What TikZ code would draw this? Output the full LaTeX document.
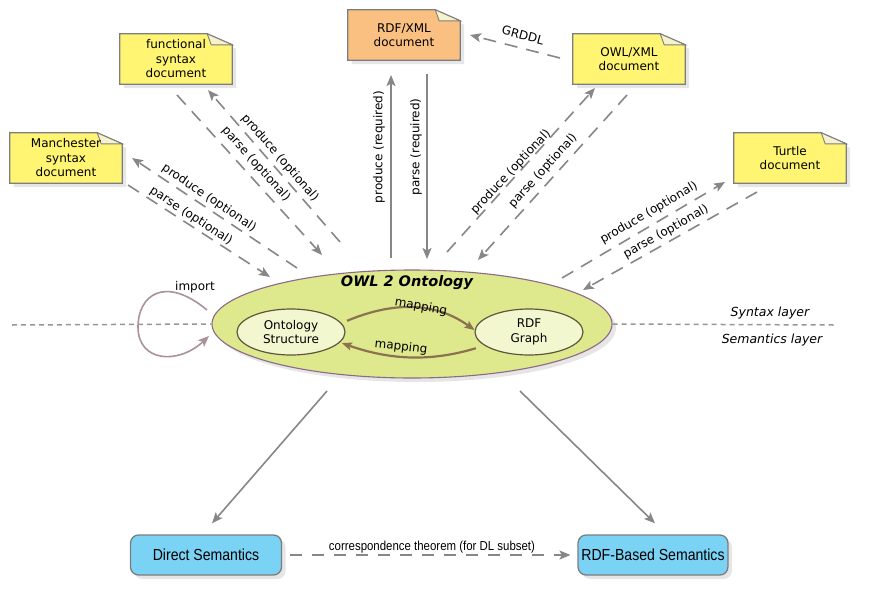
\documentclass[tikz,border=0pt]{standalone}
\usepackage{fontspec}
\setmainfont{DejaVu Sans}
\newfontfamily\narrowfont{Liberation Sans}[FakeStretch=0.88]
\usetikzlibrary{arrows.meta,shapes.geometric,shadows,calc}
\pgfdeclarelayer{background}
\pgfsetlayers{background,main}
\definecolor{docyellow}{RGB}{255,245,115}
\definecolor{docorange}{RGB}{250,192,130}
\definecolor{foldcol}{RGB}{245,242,205}
\definecolor{docborder}{RGB}{125,125,125}
\definecolor{arrgrey}{RGB}{135,135,135}
\definecolor{ontofill}{RGB}{222,232,140}
\definecolor{ontoborder}{RGB}{140,105,135}
\definecolor{innerfill}{RGB}{243,247,208}
\definecolor{innerborder}{RGB}{95,85,60}
\definecolor{mapcol}{RGB}{140,115,80}
\definecolor{importcol}{RGB}{170,145,155}
\definecolor{semfill}{RGB}{122,210,245}
\definecolor{layercol}{RGB}{150,150,150}
\newcommand\docshape[2]{%
  \path[draw=docborder, line width=1.3pt, fill=#2, softshadow]
    (#1.south west) -- (#1.north west) -- ([xshift=-25pt]#1.north east)
    -- ([yshift=-11pt]#1.north east) -- (#1.south east) -- cycle;
  \path[draw=docborder, line width=0.9pt, fill=foldcol]
    ([xshift=-25pt]#1.north east) -- ([xshift=-21pt,yshift=-11pt]#1.north east)
    -- ([yshift=-11pt]#1.north east) -- cycle;
}
\begin{document}
\begin{tikzpicture}[x=1pt,y=-1pt,
  softshadow/.style={drop shadow={opacity=0.2, shadow xshift=4pt, shadow yshift=-4pt}},
  docnode/.style={minimum width=112pt, minimum height=50pt, inner sep=0pt, align=center,
    font=\fontsize{12}{14.5}\selectfont},
  lbl/.style={font=\fontsize{12}{14}\selectfont, inner sep=1pt},
  arr/.style={draw=arrgrey, line width=1.6pt, -{Stealth[length=11pt,width=9pt,inset=2.5pt]}},
  dasharr/.style={arr, dash pattern=on 13pt off 9pt},
  semnode/.style={rounded corners=8pt, draw=docborder, line width=1.3pt, fill=semfill,
    minimum height=40pt, font=\narrowfont\fontsize{16}{18}\selectfont, softshadow},
  inner/.style={ellipse, draw=innerborder, line width=1.2pt, fill=innerfill,
    minimum width=108pt, minimum height=46pt, inner sep=0pt, align=center,
    font=\fontsize{12}{14.5}\selectfont},
  maparr/.style={draw=mapcol, line width=2.2pt, -{Stealth[length=10pt,width=8pt,inset=2pt]}},
  layerline/.style={draw=layercol, line width=1.5pt, dash pattern=on 5pt off 4pt}
]
\useasboundingbox (0,0) rectangle (871,600);

% layer separator
\coordinate (layL) at (12,325);
\coordinate (layR) at (834,325);

% documents
\node[docnode] (func) at (176,59) {functional\\syntax\\document};
\node[docnode] (manch) at (66,158) {Manchester\\syntax\\document};
\node[docnode] (rdfxml) at (404,35) {RDF/XML\\document};
\node[docnode] (owlxml) at (629,59) {OWL/XML\\document};
\node[docnode] (turtle) at (790,158) {Turtle\\document};
\begin{pgfonlayer}{background}
  \docshape{func}{docyellow}
  \docshape{manch}{docyellow}
  \docshape{rdfxml}{docorange}
  \docshape{owlxml}{docyellow}
  \docshape{turtle}{docyellow}
\end{pgfonlayer}

% ontology
\node[ellipse, draw=ontoborder, line width=1.1pt, fill=ontofill, minimum width=400pt,
  minimum height=108pt, inner sep=0pt, softshadow] (onto) at (412,324) {};
\draw[layerline] (layL) -- (onto.west);
\draw[layerline] (onto.east) -- (layR);
\node[font=\fontsize{14.5}{16}\selectfont\bfseries\itshape] (ontotitle) at (407,283) {OWL 2 Ontology};
\node[inner] (ostruct) at (291,332) {Ontology\\Structure};
\node[inner] (rdfg) at (529,332) {RDF\\Graph};

\node[font=\fontsize{12.5}{14}\selectfont\itshape] (syn) at (770,313) {Syntax layer};
\node[font=\fontsize{12.5}{14}\selectfont\itshape] (sem) at (772,340) {Semantics layer};

% mapping
\draw[maparr, shorten <=6pt] (ostruct.10) .. controls (385,305) and (430,298) .. (rdfg.178);
\draw[maparr, shorten <=9pt, shorten >=2pt] (rdfg.197) .. controls (430,362) and (390,360) .. (ostruct.-12);
\node[lbl, rotate=-10] (map1) at (421,307) {mapping};
\node[lbl, rotate=-6] (map2) at (401,347) {mapping};

% import loop
\coordinate (impS) at (207,310);
\coordinate (impE) at (209,336);
\draw[draw=importcol, line width=1.6pt, -{Stealth[length=11pt,width=9pt,inset=2.5pt]}]
  (impS) .. controls (165,275) and (138,295) .. (138,327)
  .. controls (138,362) and (178,365) .. (impE);
\node[lbl] (imp) at (195,287) {import};

% produce / parse connectors
\coordinate (fpT) at (340,242); \coordinate (fpH) at (208,90);
\coordinate (fsT) at (177,95);  \coordinate (fsH) at (322,255);
\coordinate (mpT) at (297,268); \coordinate (mpH) at (132,158);
\coordinate (msT) at (128,185); \coordinate (msH) at (270,277);
\coordinate (rpT) at (391,258); \coordinate (rpH) at (391,75);
\coordinate (rsT) at (427,74);  \coordinate (rsH) at (427,259);
\coordinate (opT) at (447,252); \coordinate (opH) at (595,88);
\coordinate (osT) at (627,95);  \coordinate (osH) at (478,260);
\coordinate (tpT) at (562,278); \coordinate (tpH) at (725,182);
\coordinate (tsT) at (757,192); \coordinate (tsH) at (583,290);
\coordinate (gT) at (560,58);   \coordinate (gH) at (470,35);

\draw[dasharr] (fpT) -- (fpH);
\draw[dasharr] (fsT) -- (fsH);
\draw[dasharr] (mpT) -- (mpH);
\draw[dasharr] (msT) -- (msH);
\draw[arr] (rpT) -- (rpH);
\draw[arr] (rsT) -- (rsH);
\draw[dasharr] (opT) -- (opH);
\draw[dasharr] (osT) -- (osH);
\draw[dasharr] (tpT) -- (tpH);
\draw[dasharr] (tsT) -- (tsH);
\draw[dasharr] (gT) -- (gH);

\node[lbl, rotate=-49] (lfp) at (280,158) {produce (optional)};
\node[lbl, rotate=-48] (lfs) at (256,164) {parse (optional)};
\node[lbl, rotate=-34] (lmp) at (209,198) {produce (optional)};
\node[lbl, rotate=-33] (lms) at (191,216) {parse (optional)};
\node[lbl, rotate=90] (lrp) at (379,147) {produce (required)};
\node[lbl, rotate=90] (lrs) at (416,147) {parse (required)};
\node[lbl, rotate=47] (lop) at (511,172) {produce (optional)};
\node[lbl, rotate=48] (los) at (543,171) {parse (optional)};
\node[lbl, rotate=30.5] (ltp) at (649,213) {produce (optional)};
\node[lbl, rotate=29.5] (lts) at (666,232) {parse (optional)};
\node[lbl, rotate=-15] (lg) at (523,35) {GRDDL};

% semantics
\node[semnode, minimum width=151pt] (ds) at (206,555) {Direct Semantics};
\node[semnode, minimum width=146pt] (rbs) at (653,555) {RDF-Based Semantics};
\coordinate (dT) at (327,391);
\coordinate (rT) at (520,391);
\draw[arr] (dT) -- ([xshift=6pt,yshift=11pt]ds.north);
\draw[arr] (rT) -- ([xshift=2pt,yshift=11pt]rbs.north);
\draw[arr, dash pattern=on 12pt off 10pt] ([xshift=8pt]ds.east) -- ([xshift=-7pt]rbs.west);
\node[font=\narrowfont\fontsize{13}{14}\selectfont] (corr) at (432,547) {correspondence theorem (for DL subset)};
\end{tikzpicture}
\end{document}
